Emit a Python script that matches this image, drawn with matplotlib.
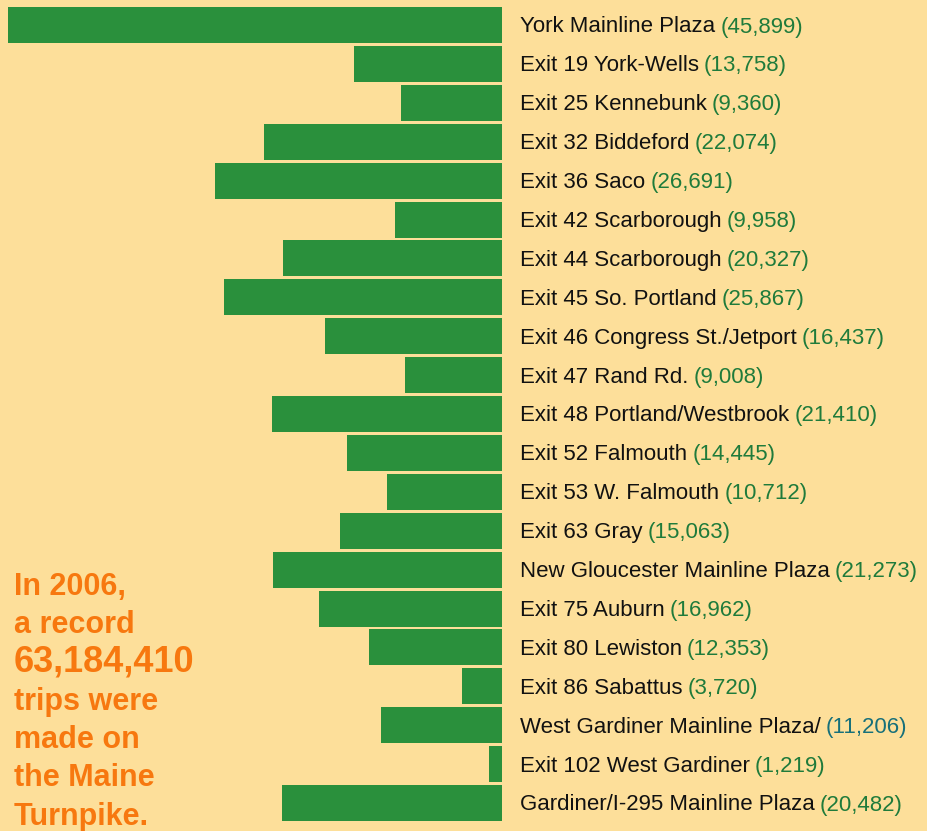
import matplotlib
matplotlib.use('Agg')
import matplotlib.pyplot as plt

# Toll plaza traffic (daily trips), top to bottom
names = ['York Mainline Plaza', 'Exit 19 York-Wells', 'Exit 25 Kennebunk',
         'Exit 32 Biddeford', 'Exit 36 Saco', 'Exit 42 Scarborough',
         'Exit 44 Scarborough', 'Exit 45 So. Portland',
         'Exit 46 Congress St./Jetport', 'Exit 47 Rand Rd.',
         'Exit 48 Portland/Westbrook', 'Exit 52 Falmouth',
         'Exit 53 W. Falmouth', 'Exit 63 Gray',
         'New Gloucester Mainline Plaza', 'Exit 75 Auburn',
         'Exit 80 Lewiston', 'Exit 86 Sabattus',
         'West Gardiner Mainline Plaza/', 'Exit 102 West Gardiner',
         'Gardiner/I-295 Mainline Plaza']
trips = [45899, 13758, 9360, 22074, 26691, 9958, 20327, 25867, 16437, 9008,
         21410, 14445, 10712, 15063, 21273, 16962, 12353, 3720, 11206, 1219,
         20482]
note_lines = ['In 2006,', 'a record', '63,184,410', 'trips were',
              'made on', 'the Maine', 'Turnpike.']

BG = '#FDDF9A'
BAR = '#2A903C'
VAL = '#1F7B3B'
TEAL = '#17707A'
ORANGE = '#F7780F'
NARROW = ['Liberation Sans', 'DejaVu Sans']

W, H = 928, 831
fig = plt.figure(figsize=(W / 100, H / 100), dpi=100, facecolor=BG)
ax = fig.add_axes([0, 0, 1, 1])
ax.set_facecolor(BG)

# pixel mapping: bar base at x=502px, 45,899 reaches x=8px
upp = 45899 / 494.0
ax.set_xlim(-502 * upp, (W - 502) * upp)
pitch = 38.9
ax.set_ylim((H - 25) / pitch, -25 / pitch)
ax.axis('off')

ypos = list(range(len(trips)))
ax.barh(ypos, [-v for v in trips], height=36 / pitch, left=0, color=BAR)

fig.canvas.draw()
r = fig.canvas.get_renderer()
inv = ax.transData.inverted()
for i, (nm, v) in enumerate(zip(names, trips)):
    yb = i + 7.5 / pitch
    t = ax.text(18 * upp, yb, nm, fontsize=16, family=NARROW,
                color='#111111', va='baseline', ha='left')
    bb = t.get_window_extent(renderer=r)
    x1 = inv.transform((bb.x1 + 5, 0))[0]
    col = TEAL if nm.startswith('West Gardiner') else VAL
    ax.text(x1, yb, f'({v:,})', fontsize=16, family=NARROW,
            color=col, va='baseline', ha='left')

# orange note at lower left
for k, line in enumerate(note_lines):
    big = line[0].isdigit()
    fig.text(14 / W, 1 - (595 + k * 38.3) / H, line,
             fontsize=26 if big else 22, fontweight='bold',
             family=['Liberation Sans', 'DejaVu Sans'], color=ORANGE,
             va='baseline', ha='left')

fig.savefig('out.png', dpi=100, facecolor=BG)
